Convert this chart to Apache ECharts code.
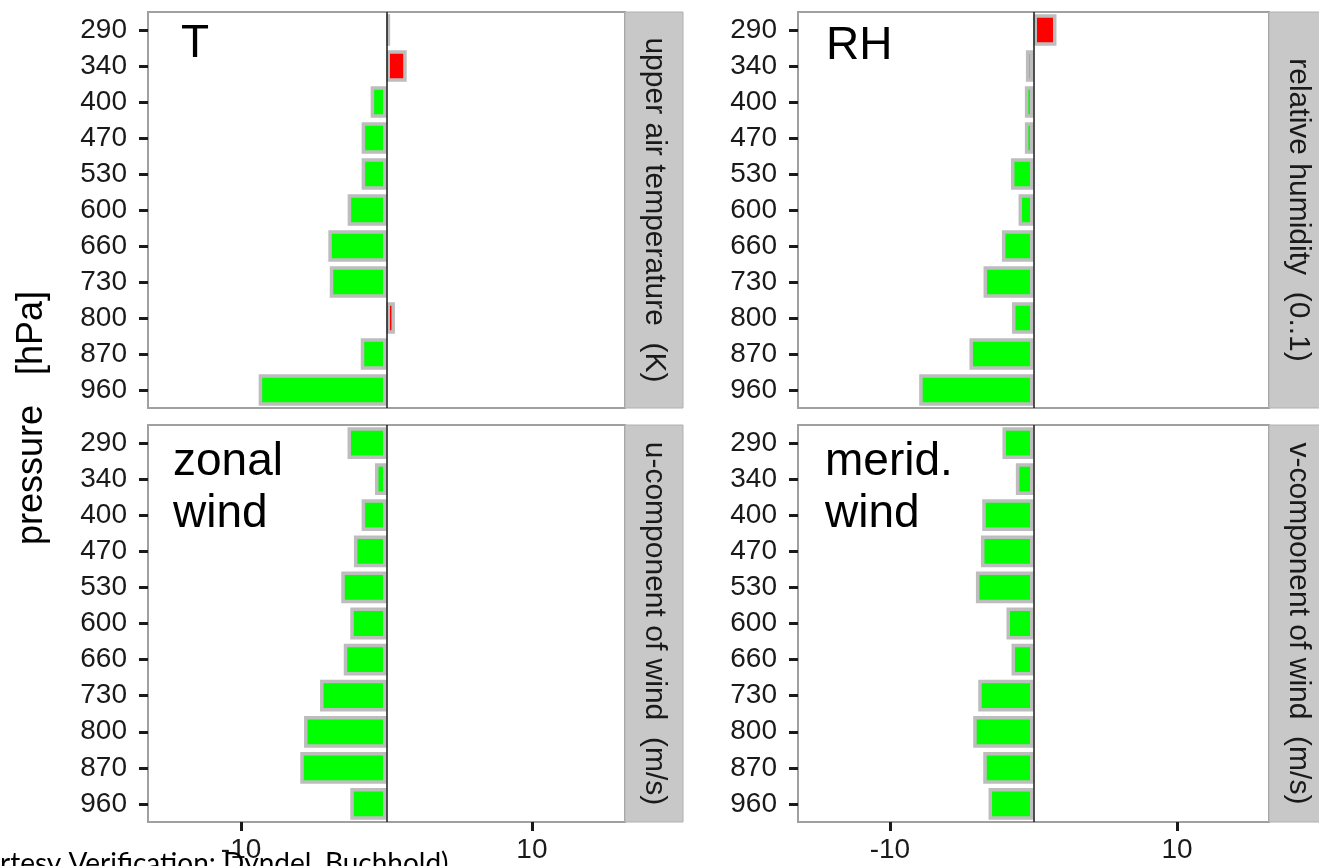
<!DOCTYPE html>
<html>
<head>
<meta charset="utf-8">
<script src="https://cdn.jsdelivr.net/npm/echarts@6/dist/echarts.min.js"></script>
<style>
html,body{margin:0;padding:0;background:#fff;}
#chart{width:1319px;height:866px;}
</style>
</head>
<body>
<div id="chart"></div>
<script>
// ---- data ----
const levels = ['290','340','400','470','530','600','660','730','800','870','960'];
const tValues  = [0.25, 1.39, -1.09, -1.71, -1.71, -2.67, -4.0, -3.9, 0.58, -1.77, -8.79];
const rhValues = [1.6, -0.53, -0.6, -0.6, -1.57, -1.04, -2.2, -3.48, -1.5, -4.46, -7.96];
const uValues  = [-2.68, -0.79, -1.71, -2.24, -3.11, -2.49, -2.94, -4.57, -5.67, -5.93, -2.49];
const vValues  = [-2.16, -1.23, -3.57, -3.66, -4.01, -1.88, -1.53, -3.85, -4.2, -3.5, -3.13];
const xTicks = [-10, 10];
const panelTitles = ['T', 'RH', 'zonal\nwind', 'merid.\nwind'];
const stripLabels = ['upper air temperature  (K)', 'relative humidity  (0..1)', 'u-component of wind  (m/s)', 'v-component of wind  (m/s)'];
const yTitle = 'pressure   [hPa]';
const caption = 'rtesy Verification: Dyndel, Buchhold)';

// ---- layout ----
const FONT = '"Liberation Sans", Arial, sans-serif';
const panels = [
  {left:148, top:12,  width:477, height:396},
  {left:798, top:12,  width:471, height:396},
  {left:148, top:425, width:477, height:397},
  {left:798, top:425, width:471, height:397}
];
const seriesValues = [tValues, rhValues, uValues, vValues];
const xMin = -16.4, xMax = 16.4;

const grids = [], xAxes = [], yAxes = [], series = [], graphics = [];
panels.forEach((p, i) => {
  const isBottom = i >= 2;
  grids.push({left:p.left, top:p.top, width:p.width, height:p.height,
    show:true, backgroundColor:'#ffffff', borderColor:'#a0a0a0', borderWidth:2, containLabel:false});
  xAxes.push({type:'value', gridIndex:i, min:xMin, max:xMax, position:'bottom',
    axisLine:{show:false, onZero:false}, splitLine:{show:false},
    axisTick:{show:isBottom, length:9, lineStyle:{color:'#1a1a1a', width:3}, customValues:xTicks},
    axisLabel:{show:isBottom, customValues:xTicks, margin:14, fontSize:28, color:'#1a1a1a', fontFamily:FONT}
  });
  yAxes.push({type:'category', gridIndex:i, data:levels, inverse:true, position:'left',
    axisLine:{show:false, onZero:false}, splitLine:{show:false},
    axisTick:{show:true, alignWithLabel:true, interval:0, length:9, lineStyle:{color:'#1a1a1a', width:3}},
    axisLabel:{interval:0, margin:21, fontSize:28, color:'#1a1a1a', fontFamily:FONT}
  });
  series.push({type:'bar', xAxisIndex:i, yAxisIndex:i, data:seriesValues[i],
    barWidth:'88%',
    itemStyle:{
      color: (d) => d.value >= 0 ? '#ff0000' : '#00ff00',
      borderColor:'#bdbdbd', borderWidth:3.5
    },
    emphasis:{disabled:true},
    markLine:{silent:true, symbol:'none', label:{show:false},
      lineStyle:{color:'#1a1a1a', width:1.5, type:'solid'},
      data:[{xAxis:0}]}
  });
  // strip
  graphics.push({type:'rect', shape:{x:p.left + p.width, y:p.top, width:58, height:p.height},
    style:{fill:'#c8c8c8', stroke:'#b0b0b0', lineWidth:1}, z:1});
  graphics.push({type:'text', x:p.left + p.width + 29, y:p.top + p.height/2, rotation:-Math.PI/2,
    style:{text:stripLabels[i], font:'30px ' + FONT, fill:'#1a1a1a', align:'center', verticalAlign:'middle'}, z:2});
});

// panel annotations
const annPos = [[181, 44], [826, 46], [173, 488], [825, 488]];
panelTitles.forEach((t, i) => {
  graphics.push({type:'text', x:annPos[i][0], y:annPos[i][1],
    style:{text:t, font:'46px ' + FONT, fill:'#000', align:'left', verticalAlign:'middle', lineHeight:52}, z:10});
});
// y-axis title
graphics.push({type:'text', x:32, y:418, rotation:Math.PI/2,
  style:{text:yTitle, font:'36px ' + FONT, fill:'#000', align:'center', verticalAlign:'middle'}, z:10});
// caption
graphics.push({type:'text', x:0, y:864,
  style:{text:caption, font:'28px Lato, "Open Sans", sans-serif', fill:'#000', align:'left', verticalAlign:'middle'}, z:5});

const chart = echarts.init(document.getElementById('chart'), null, {renderer:'canvas'});
chart.setOption({
  animation:false,
  backgroundColor:'#ffffff',
  grid:grids, xAxis:xAxes, yAxis:yAxes, series:series,
  graphic:graphics
});
</script>
</body>
</html>
